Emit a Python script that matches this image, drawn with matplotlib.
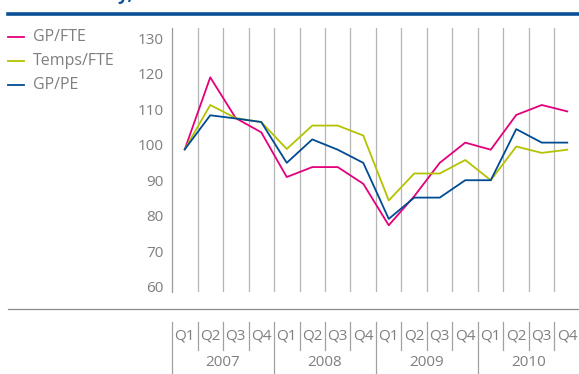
import matplotlib.pyplot as plt
from matplotlib.lines import Line2D
from matplotlib.transforms import blended_transform_factory

# data
quarters = ["Q1", "Q2", "Q3", "Q4"] * 4
years = ["2007", "2008", "2009", "2010"]
series_names = ["GP/FTE", "Temps/FTE", "GP/PE"]
gp_fte = [98.7, 119.0, 107.5, 103.5, 90.9, 93.7, 93.7, 89.0,
          77.3, 85.5, 94.9, 100.6, 98.6, 108.4, 111.2, 109.4]
temps_fte = [98.7, 111.2, 107.5, 106.4, 98.8, 105.4, 105.4, 102.6,
             84.3, 91.9, 91.9, 95.7, 90.0, 99.5, 97.7, 98.6]
gp_pe = [98.7, 108.3, 107.4, 106.4, 94.9, 101.5, 98.6, 94.9,
         79.1, 85.1, 85.1, 90.0, 90.0, 104.4, 100.6, 100.6]
colors = ["#e4007c", "#b3c300", "#004b93"]

W, H = 579, 374
plt.rcParams['font.family'] = ['Open Sans', 'DejaVu Sans']
fig = plt.figure(figsize=(W / 100, H / 100), dpi=100)

def fx(px):
    return px / W

def fy(py):
    return 1 - py / H

ax = fig.add_axes([fx(172), fy(292), 408 / W, (292 - 28) / H])
x = list(range(len(quarters)))
for vals, c in zip([gp_fte, temps_fte, gp_pe], colors):
    ax.plot(x, vals, color=c, lw=1.3, zorder=3)

for i in range(len(quarters) - 1):
    ax.axvline(i + 0.5, color="#b4b4b4", lw=0.9, zorder=1)

ax.set_xlim(-0.5, len(quarters) - 0.5)
ax.set_ylim(58.5, 132.9)
ax.set_xticks([])
ax.set_yticks(range(60, 131, 10))
ax.tick_params(axis="y", length=0, pad=6, labelsize=11, labelcolor="#7f7f7f")
for s in ["top", "right", "bottom"]:
    ax.spines[s].set_visible(False)
ax.spines["left"].set_color("#9a9a9a")
ax.spines["left"].set_linewidth(0.9)

# top bar and clipped title remnant
fig.add_artist(Line2D([fx(8), 1], [fy(14), fy(14)], color="#0b4f97", lw=2.6))
fig.text(fx(133), 1.0, "Productivity,", ha="right", va="baseline",
         fontsize=13, fontweight="bold", color="#0b4f97")

# legend
for k, (name, c) in enumerate(zip(series_names, colors)):
    yy = fy(37 + 24 * k)
    fig.add_artist(Line2D([fx(8), fx(24)], [yy, yy], color=c, lw=1.3))
    fig.text(fx(33), yy, name, ha="left", va="center", fontsize=11.5, color="#7f7f7f")

# separator line above category labels
fig.add_artist(Line2D([fx(8), 1], [fy(309), fy(309)], color="#8c8c8c", lw=0.9))

# category axis below
tr = blended_transform_factory(ax.transData, fig.transFigure)
for i, q in enumerate(quarters):
    ax.text(i, fy(336), q, transform=tr, ha="center", va="center",
            fontsize=11, color="#7f7f7f", clip_on=False)
    left = i - 0.5
    if i % 4 == 0:
        ax.plot([left, left], [fy(322), 0], transform=tr, color="#a0a0a0",
                lw=0.9, clip_on=False)
    else:
        ax.plot([left, left], [fy(322), fy(350)], transform=tr, color="#a0a0a0",
                lw=0.9, clip_on=False)
for j, yr in enumerate(years):
    ax.text(4 * j + 1.5, fy(363), yr, transform=tr, ha="center", va="center",
            fontsize=11, color="#7f7f7f", clip_on=False)

fig.savefig("out.png", dpi=100)
